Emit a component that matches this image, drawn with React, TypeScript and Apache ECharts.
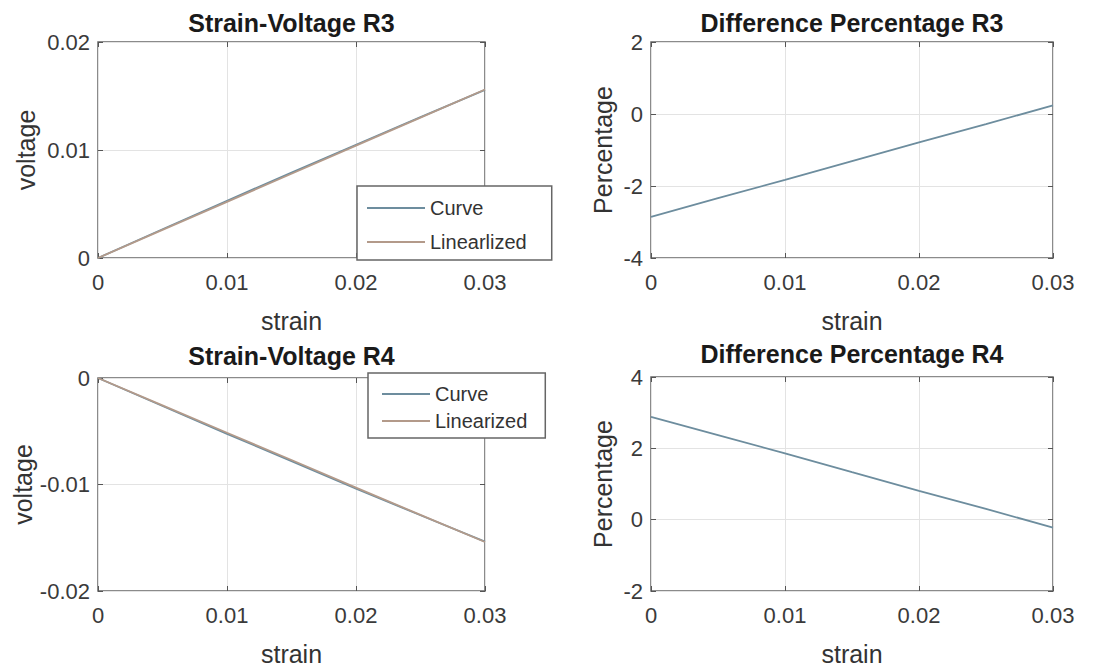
import React, { useEffect, useRef } from "react";
import * as echarts from "echarts";

// Strain sample points shared by all four panels
const strain = [0, 0.005, 0.01, 0.015, 0.02, 0.025, 0.03];

// R3 bridge output: measured curve and its linear fit
const curveR3 = [0, 0.00266, 0.0053, 0.00791, 0.01049, 0.01304, 0.01557];
const linR3 = [0, 0.0026, 0.0052, 0.0078, 0.0104, 0.013, 0.0156];
// Difference between fit and curve, in percent
const diffR3 = [-2.86, -2.34, -1.83, -1.31, -0.79, -0.28, 0.24];

// R4 bridge output: measured curve and its linear fit
const curveR4 = [0, -0.00263, -0.00524, -0.0078, -0.01038, -0.01289, -0.01537];
const linR4 = [0, -0.00257, -0.00514, -0.0077, -0.0103, -0.01285, -0.0154];
const diffR4 = [2.88, 2.37, 1.86, 1.33, 0.81, 0.3, -0.22];

const xTicks = { min: 0, max: 0.03, interval: 0.01 };
const yTicks = [
  { min: 0, max: 0.02, interval: 0.01 },
  { min: -4, max: 2, interval: 2 },
  { min: -0.02, max: 0, interval: 0.01 },
  { min: -2, max: 4, interval: 2 },
];

const titles = [
  "Strain-Voltage R3",
  "Difference Percentage R3",
  "Strain-Voltage R4",
  "Difference Percentage R4",
];
const yNames = ["voltage", "Percentage", "voltage", "Percentage"];

const FONT = "'Liberation Sans', Arial, Helvetica, sans-serif";
const CURVE = "#6d8d9e";
const LINEAR = "#b39a8a";
const BOX = "#666666";

const pairs = (ys: number[]) => strain.map((s, i) => [s, ys[i]]);

export default function App() {
  const ref = useRef<HTMLDivElement>(null);

  useEffect(() => {
    if (!ref.current) return;
    const chart = echarts.init(ref.current, null, { renderer: "svg" });

    const grids = [
      { left: 98, top: 42, width: 387, height: 216 },
      { left: 651, top: 42, width: 402, height: 216 },
      { left: 98, top: 378, width: 387, height: 215 },
      { left: 651, top: 377, width: 402, height: 216 },
    ];
    const nameGaps = [60, 36, 63, 36];
    const titleTops = [10, 10, 343, 341];

    const tickStyle = {
      show: true,
      inside: true,
      length: 5,
      lineStyle: { color: "#555", width: 1 },
    };
    const noLine = { show: false, onZero: false };

    const xAxes: any[] = [];
    const yAxes: any[] = [];
    grids.forEach((_, i) => {
      xAxes.push({
        type: "value",
        gridIndex: i,
        ...xTicks,
        position: "bottom",
        name: "strain",
        nameLocation: "middle",
        nameGap: 50,
        nameTextStyle: { fontFamily: FONT, fontSize: 25, color: "#333" },
        axisLine: noLine,
        axisTick: tickStyle,
        axisLabel: {
          fontFamily: FONT,
          fontSize: 22,
          color: "#3a3a3a",
          margin: 13,
        },
        splitLine: { show: true, lineStyle: { color: "#e3e3e3", width: 1 } },
      });
      yAxes.push({
        type: "value",
        gridIndex: i,
        ...yTicks[i],
        position: "left",
        name: yNames[i],
        nameLocation: "middle",
        nameGap: nameGaps[i],
        nameTextStyle: { fontFamily: FONT, fontSize: 25, color: "#333" },
        axisLine: noLine,
        axisTick: tickStyle,
        axisLabel: {
          fontFamily: FONT,
          fontSize: 22,
          color: "#3a3a3a",
          margin: 8,
        },
        splitLine: { show: true, lineStyle: { color: "#e3e3e3", width: 1 } },
      });
    });
    // Mirror ticks on the top and right edges of each box
    grids.forEach((_, i) => {
      xAxes.push({
        type: "value",
        gridIndex: i,
        ...xTicks,
        position: "top",
        axisLine: noLine,
        axisTick: tickStyle,
        axisLabel: { show: false },
        splitLine: { show: false },
      });
      yAxes.push({
        type: "value",
        gridIndex: i,
        ...yTicks[i],
        position: "right",
        axisLine: noLine,
        axisTick: tickStyle,
        axisLabel: { show: false },
        splitLine: { show: false },
      });
    });

    const lineSeries = (name: string, data: number[], idx: number, color: string) => ({
      type: "line",
      name,
      xAxisIndex: idx,
      yAxisIndex: idx,
      data: pairs(data),
      showSymbol: false,
      symbol: "none",
      lineStyle: { color, width: 1.8 },
      itemStyle: { color },
    });

    const legendBase = {
      orient: "vertical",
      backgroundColor: "#fff",
      borderColor: BOX,
      borderWidth: 1.5,
      borderRadius: 0,
      icon: "rect",
      itemHeight: 2,
      textStyle: { fontFamily: FONT, fontSize: 20, color: "#333", lineHeight: 22 },
    };

    chart.setOption({
      animation: false,
      backgroundColor: "#ffffff",
      title: titles.map((t, i) => ({
        text: t,
        left: grids[i].left + grids[i].width / 2,
        top: titleTops[i],
        textAlign: "center",
        padding: 0,
        textStyle: {
          fontFamily: FONT,
          fontSize: 25,
          fontWeight: "bold",
          color: "#1a1a1a",
        },
      })),
      grid: grids.map((g) => ({
        ...g,
        show: true,
        backgroundColor: "#fff",
        borderColor: BOX,
        borderWidth: 1.5,
      })),
      xAxis: xAxes,
      yAxis: yAxes,
      legend: [
        {
          ...legendBase,
          data: ["Curve", "Linearlized"],
          left: 357,
          top: 186,
          padding: [11, 25, 7, 10],
          itemWidth: 58,
          itemGap: 12,
        },
        {
          ...legendBase,
          data: ["Curve", "Linearized"],
          left: 368,
          top: 373,
          padding: [10, 18, 6, 14],
          itemWidth: 48,
          itemGap: 5,
        },
      ],
      series: [
        lineSeries("Curve", curveR3, 0, CURVE),
        lineSeries("Linearlized", linR3, 0, LINEAR),
        lineSeries("Curve", diffR3, 1, CURVE),
        lineSeries("Curve", curveR4, 2, CURVE),
        lineSeries("Linearized", linR4, 2, LINEAR),
        lineSeries("Curve", diffR4, 3, CURVE),
      ],
    });

    return () => chart.dispose();
  }, []);

  return (
    <div
      ref={ref}
      style={{
        position: "fixed",
        left: 0,
        top: 0,
        width: 1102,
        height: 667,
        background: "#fff",
      }}
    />
  );
}
